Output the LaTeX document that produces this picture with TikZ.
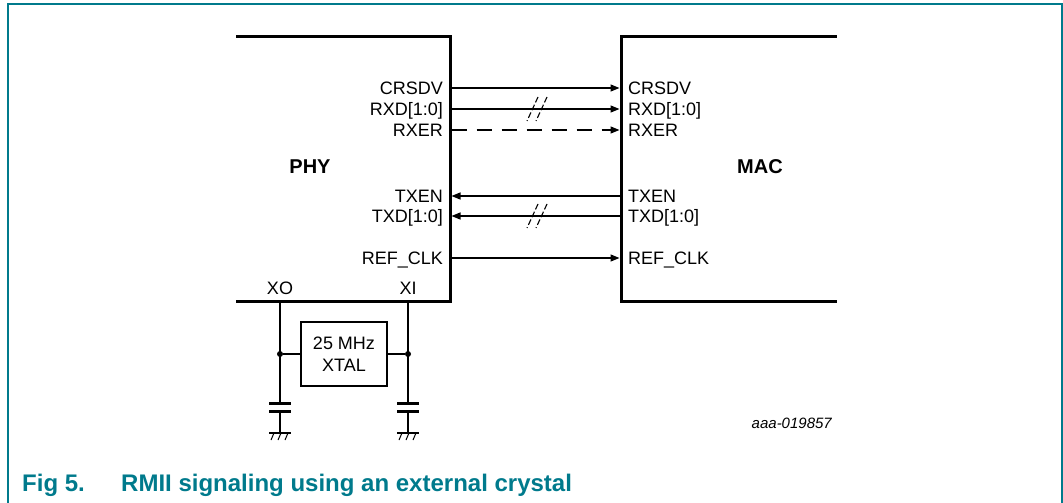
\documentclass[tikz,border=0pt]{standalone}
\usepackage{fontspec}
\setmainfont{Liberation Sans}
\usetikzlibrary{arrows.meta}
\definecolor{nxpteal}{RGB}{0,122,140}
\tikzset{
  blk/.style={line width=3pt, line cap=rect},
  sig/.style={line width=1.3pt},
  arr/.style={sig, -{Triangle[length=9pt,width=7pt]}},
  dsh/.style={arr, dash pattern=on 15pt off 10pt},
  lab/.style={inner sep=0pt, font=\fontsize{18}{20}\selectfont},
  labR/.style={lab, anchor=base east},
  labL/.style={lab, anchor=base west},
  big/.style={inner sep=0pt, font=\fontsize{20}{22}\selectfont\bfseries},
  slash/.style={line width=1.1pt, dash pattern=on 6pt off 2.5pt},
  plate/.style={line width=3pt},
  dot/.style={circle, fill, inner sep=0pt, minimum size=6pt},
}
\begin{document}
\begin{tikzpicture}[x=1pt, y=-1pt]
\useasboundingbox (0,0) rectangle (1063,503);
% frame
\draw[nxpteal, line width=2pt] (8,503) -- (8,4) -- (1062,4) -- (1062,503);
% PHY block
\draw[blk] (237,37) -- (450,37) -- (450,301) -- (237,301);
\node[big] (phy) at (310,167) {PHY};
% MAC block
\draw[blk] (835,37) -- (621,37) -- (621,301) -- (835,301);
\node[big] (mac) at (760,167) {MAC};
% pin coordinates
\foreach \n/\y in {crs/88, rxd/109, rxer/130, txen/196, txd/216, clk/258}{
  \coordinate (p\n) at (451.5,\y);
  \coordinate (m\n) at (619.5,\y);
}
% PHY labels
\node[labR] (lpcrs) at (443,94.5) {CRSDV};
\node[labR] (lprxd) at (443,115.5) {RXD[1:0]};
\node[labR] (lprxer) at (443,136.5) {RXER};
\node[labR] (lptxen) at (443,202.5) {TXEN};
\node[labR] (lptxd) at (443,222.5) {TXD[1:0]};
\node[labR] (lpclk) at (443,264.5) {REF\_CLK};
% MAC labels
\node[labL] (lmcrs) at (628,94.5) {CRSDV};
\node[labL] (lmrxd) at (628,115.5) {RXD[1:0]};
\node[labL] (lmrxer) at (628,136.5) {RXER};
\node[labL] (lmtxen) at (628,202.5) {TXEN};
\node[labL] (lmtxd) at (628,222.5) {TXD[1:0]};
\node[labL] (lmclk) at (628,264.5) {REF\_CLK};
% signals
\draw[arr] (pcrs) -- (mcrs);
\draw[arr] (prxd) -- (mrxd);
\draw[dsh] (prxer) -- (mrxer);
\draw[arr] (mtxen) -- (ptxen);
\draw[arr] (mtxd) -- (ptxd);
\draw[arr] (pclk) -- (mclk);
% bus slashes
\foreach \y in {109,216}{
  \draw[slash] (538,\y-12) -- (527,\y+12);
  \draw[slash] (547,\y-12) -- (536,\y+12);
}
% crystal pins
\node[lab] (xo) at (280,288) {XO};
\node[lab] (xi) at (408,288) {XI};
\coordinate (xop) at (280,302);
\coordinate (xip) at (408,302);
\node[draw, line width=2.4pt, minimum width=86pt, minimum height=64pt, align=center,
      font=\fontsize{18}{22}\selectfont, inner sep=0pt] (xtal) at (344,354) {25 MHz\\XTAL};
\node[dot] (dl) at (280,354) {};
\node[dot] (dr) at (408,354) {};
\draw[sig] (dl) -- (xtal.west);
\draw[sig] (xtal.east) -- (dr);
% capacitors and grounds
\foreach \x/\n in {280/l, 408/r}{
  \coordinate (ct\n) at (\x,403);
  \coordinate (cb\n) at (\x,411);
  \coordinate (g\n) at (\x,433);
  \draw[plate] (\x-11,403) -- (\x+11,403);
  \draw[plate] (\x-11,411) -- (\x+11,411);
  \draw[sig] (g\n) ++(-11,0) -- ++(22,0);
  \foreach \dx in {-7,0,7}{
    \draw[line width=1pt] (\x+\dx+1,433) -- (\x+\dx-2,440);
  }
}
\draw[sig] (xop) -- (ctl);
\draw[sig] (cbl) -- (gl);
\draw[sig] (xip) -- (ctr);
\draw[sig] (cbr) -- (gr);
% id
\node[inner sep=0pt, anchor=base east, font=\fontsize{15}{17}\selectfont\itshape] (id) at (832,428) {aaa-019857};
% caption
\node[inner sep=0pt, anchor=base west, text=nxpteal, font=\fontsize{24}{26}\selectfont\bfseries] (fig) at (22,491) {Fig 5.};
\node[inner sep=0pt, anchor=base west, text=nxpteal, font=\fontsize{24}{26}\selectfont\bfseries] (cap) at (121,491) {RMII signaling using an external crystal};
\end{tikzpicture}
\end{document}
